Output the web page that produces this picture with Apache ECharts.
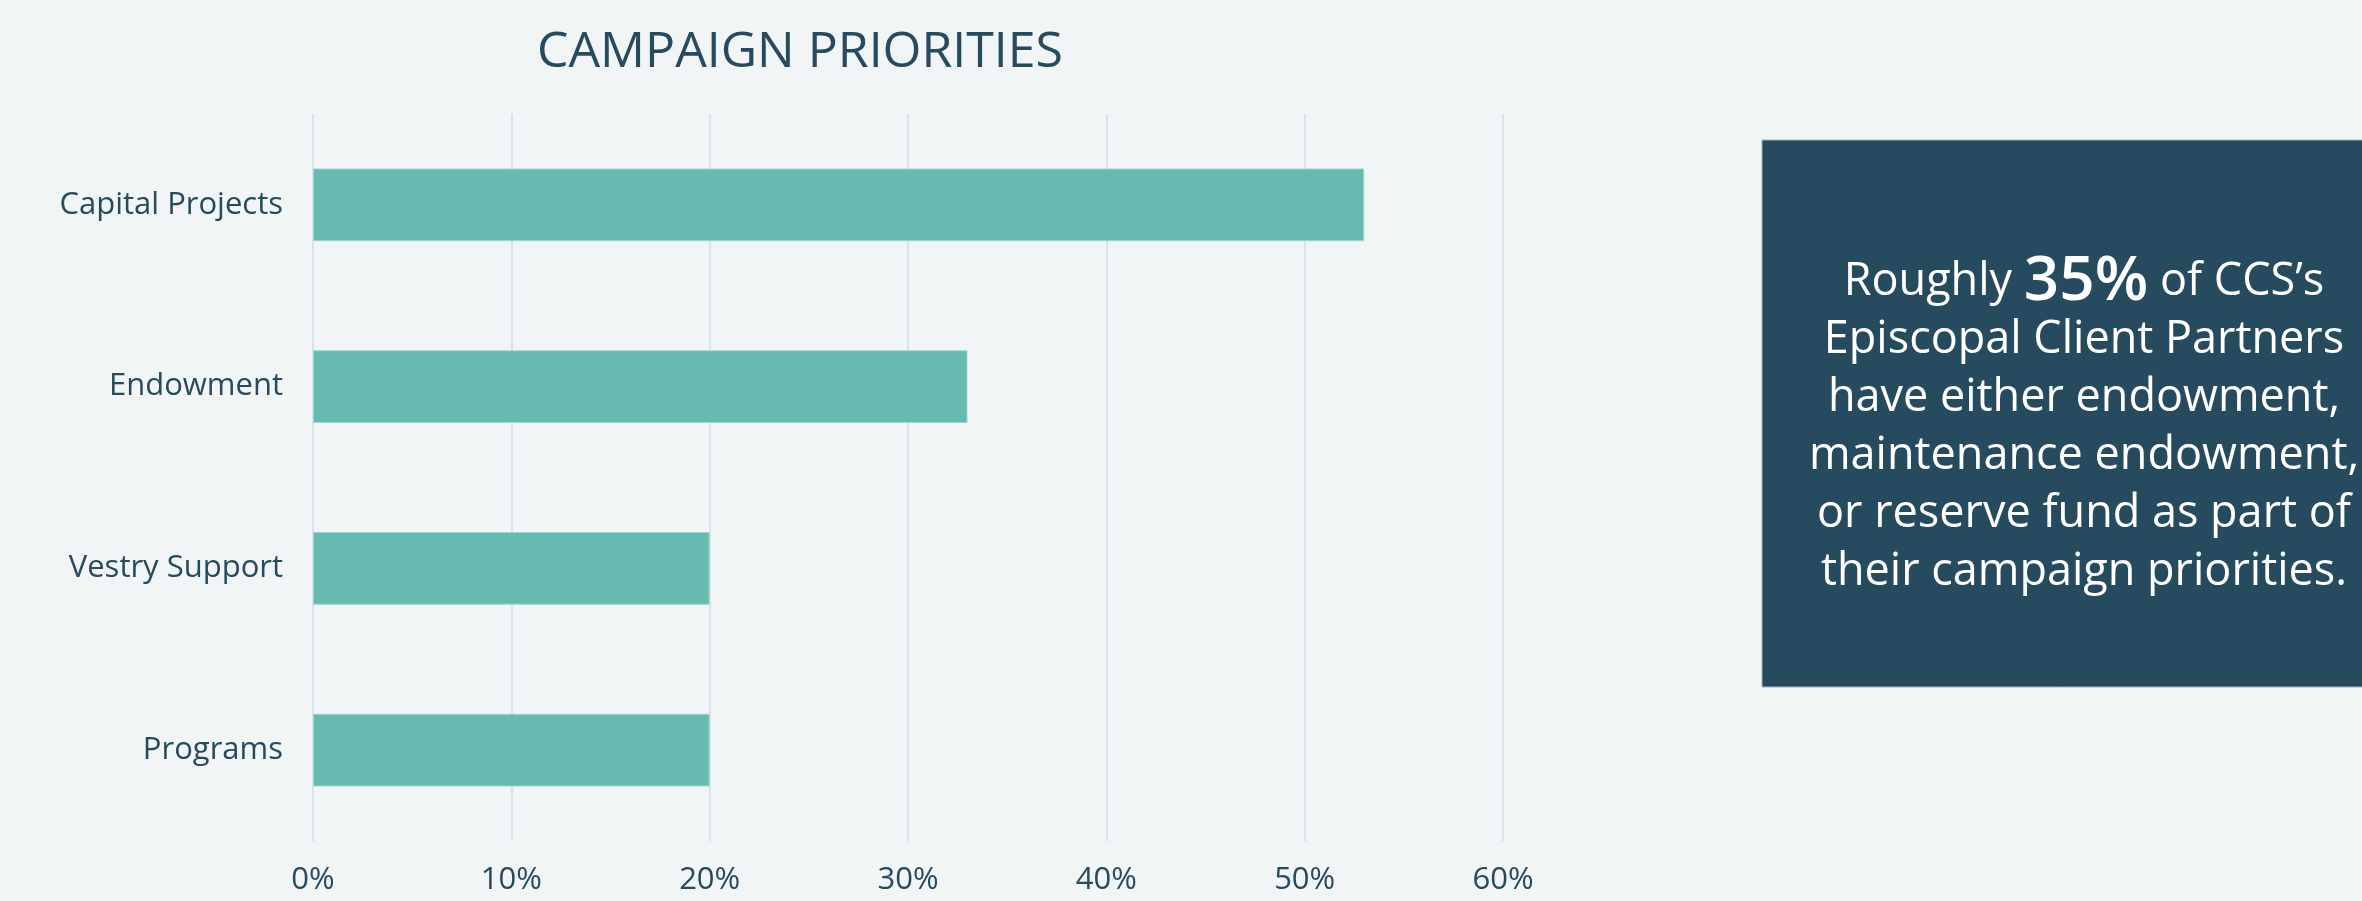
<!DOCTYPE html>
<html><head><meta charset="utf-8">
<script src="https://cdn.jsdelivr.net/npm/echarts@6/dist/echarts.min.js"></script>
<style>html,body{margin:0;padding:0;background:#f1f5f6;}#c{width:2362px;height:901px;}</style>
</head><body><div id="c"></div>
<script>
const categories = ['Capital Projects', 'Endowment', 'Vestry Support', 'Programs'];
const values = [53, 33, 20, 20];
const xTicks = [0, 10, 20, 30, 40, 50, 60];
const titleText = 'CAMPAIGN PRIORITIES';
const calloutLines = [
  ["Roughly ", "35%", " of CCS\u2019s"],
  ["Episcopal Client Partners"],
  ["have either endowment,"],
  ["maintenance endowment,"],
  ["or reserve fund as part of"],
  ["their campaign priorities."]
];

const navy = '#264a5e';
const calloutText = calloutLines.map(l => l.length === 3 ? `{a|${l[0]}}{b|${l[1]}}{a|${l[2]}}` : `{a|${l[0]}}`).join('\n');

const chart = echarts.init(document.getElementById('c'));
chart.setOption({
  backgroundColor: '#f1f5f6',
  animation: false,
  grid: { left: 313, right: 859, top: 114, bottom: 60, containLabel: false },
  xAxis: {
    type: 'value', min: xTicks[0], max: xTicks[xTicks.length - 1], interval: 10,
    axisLine: { show: false }, axisTick: { show: false },
    splitLine: { show: true, lineStyle: { color: '#d6e4ec', width: 2 } },
    axisLabel: { formatter: v => v + '%', color: navy, fontSize: 31, fontFamily: 'Open Sans', margin: 24 }
  },
  yAxis: {
    type: 'category', data: categories, inverse: true,
    axisLine: { show: false }, axisTick: { show: false },
    axisLabel: { color: navy, fontSize: 31, fontFamily: 'Open Sans', margin: 30 }
  },
  series: [{
    type: 'bar', data: values, barCategoryGap: '60%',
    itemStyle: { color: '#66bab0', borderColor: '#9fd6ce', borderWidth: 1 }
  }],
  graphic: [
    { type: 'text', x: 800, y: 53, z: 10,
      style: { text: titleText, align: 'center', verticalAlign: 'middle', fill: navy, font: '500 50px "Open Sans"' } },
    { type: 'rect', shape: { x: 1762, y: 140, width: 620, height: 547 }, style: { fill: '#264a5e', stroke: '#9fb4c0', lineWidth: 1 }, z: 5 },
    { type: 'text', x: 2084, y: 427, z: 10,
      style: { text: calloutText, align: 'center', verticalAlign: 'middle', fill: '#ffffff',
        rich: {
          a: { fontSize: 45, fontFamily: 'Open Sans', color: '#ffffff', lineHeight: 58 },
          b: { fontSize: 62, fontFamily: 'Open Sans', fontWeight: 600, color: '#ffffff', lineHeight: 58 }
        } } }
  ]
});
</script></body></html>
